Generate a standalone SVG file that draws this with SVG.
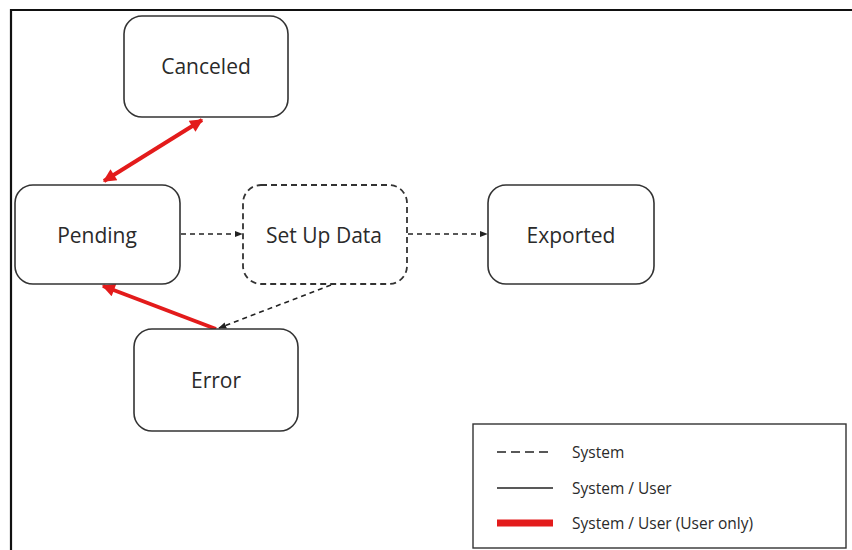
<svg xmlns="http://www.w3.org/2000/svg" width="852" height="550" viewBox="0 0 852 550">
  <style>
    .node { fill: #ffffff; stroke: #333333; stroke-width: 1.6; }
    .dnode { fill: #ffffff; stroke: #333333; stroke-width: 1.8; stroke-dasharray: 6 4; }
    .label { font-family: "Open Sans", "Liberation Sans", sans-serif; font-size: 21px; fill: #2a2a2a; text-anchor: middle; dominant-baseline: central; }
    .leg { font-family: "Open Sans", "Liberation Sans", sans-serif; font-size: 15.5px; fill: #2a2a2a; dominant-baseline: central; }
    .dash { fill: none; stroke: #222222; stroke-width: 1.6; stroke-dasharray: 5 4; }
    .ldash { fill: none; stroke: #222222; stroke-width: 1.6; stroke-dasharray: 9 5; }
    .solid { fill: none; stroke: #222222; stroke-width: 1.5; }
    .red { fill: none; stroke: #e31b1b; stroke-width: 4; }
  </style>
  <defs>
    <marker id="ah" viewBox="0 0 10 10" refX="9" refY="5" markerWidth="8" markerHeight="8" orient="auto" markerUnits="userSpaceOnUse">
      <path d="M0,1 L10,5 L0,9 z" fill="#222222"/>
    </marker>
    <marker id="rh" viewBox="0 0 10 10" refX="9" refY="5" markerWidth="17" markerHeight="13" orient="auto-start-reverse" markerUnits="userSpaceOnUse">
      <path d="M0,0 L10,5 L0,10 z" fill="#e31b1b"/>
    </marker>
  </defs>
  <rect x="0" y="0" width="852" height="550" fill="#ffffff"/>
  <g id="frame">
    <path d="M11,550 L11,10 L852,10" fill="none" stroke="#111111" stroke-width="2.2"/>
  </g>
  <g id="connectors">
    <line class="red" x1="104" y1="181" x2="202" y2="120" marker-start="url(#rh)" marker-end="url(#rh)"/>
    <line class="red" x1="216" y1="329" x2="103" y2="286" marker-end="url(#rh)"/>
    <line class="dash" x1="181" y1="234" x2="242" y2="234" marker-end="url(#ah)"/>
    <line class="dash" x1="408" y1="234" x2="487" y2="234" marker-end="url(#ah)"/>
    <line class="dash" x1="331" y1="285" x2="219" y2="328" marker-end="url(#ah)"/>
  </g>
  <g id="canceled">
    <rect class="node" x="124" y="16" width="164" height="101" rx="18"/>
    <text class="label" x="206" y="66">Canceled</text>
  </g>
  <g id="pending">
    <rect class="node" x="15" y="185" width="165" height="99" rx="18"/>
    <text class="label" x="97" y="235">Pending</text>
  </g>
  <g id="setupdata">
    <rect class="dnode" x="243" y="185" width="164" height="99" rx="18"/>
    <text class="label" x="324" y="235">Set Up Data</text>
  </g>
  <g id="exported">
    <rect class="node" x="488" y="185" width="166" height="99" rx="18"/>
    <text class="label" x="571" y="235">Exported</text>
  </g>
  <g id="error">
    <rect class="node" x="134" y="329" width="164" height="102" rx="18"/>
    <text class="label" x="216" y="380">Error</text>
  </g>
  <g id="legend">
    <rect x="473" y="424" width="373" height="124" fill="#ffffff" stroke="#333333" stroke-width="1.4"/>
    <line class="ldash" x1="497" y1="452" x2="553" y2="452"/>
    <text class="leg" x="572" y="452">System</text>
    <line class="solid" x1="497" y1="488" x2="553" y2="488"/>
    <text class="leg" x="572" y="488">System / User</text>
    <line x1="497" y1="523" x2="553" y2="523" stroke="#e31b1b" stroke-width="7"/>
    <text class="leg" x="572" y="523">System / User (User only)</text>
  </g>
</svg>
